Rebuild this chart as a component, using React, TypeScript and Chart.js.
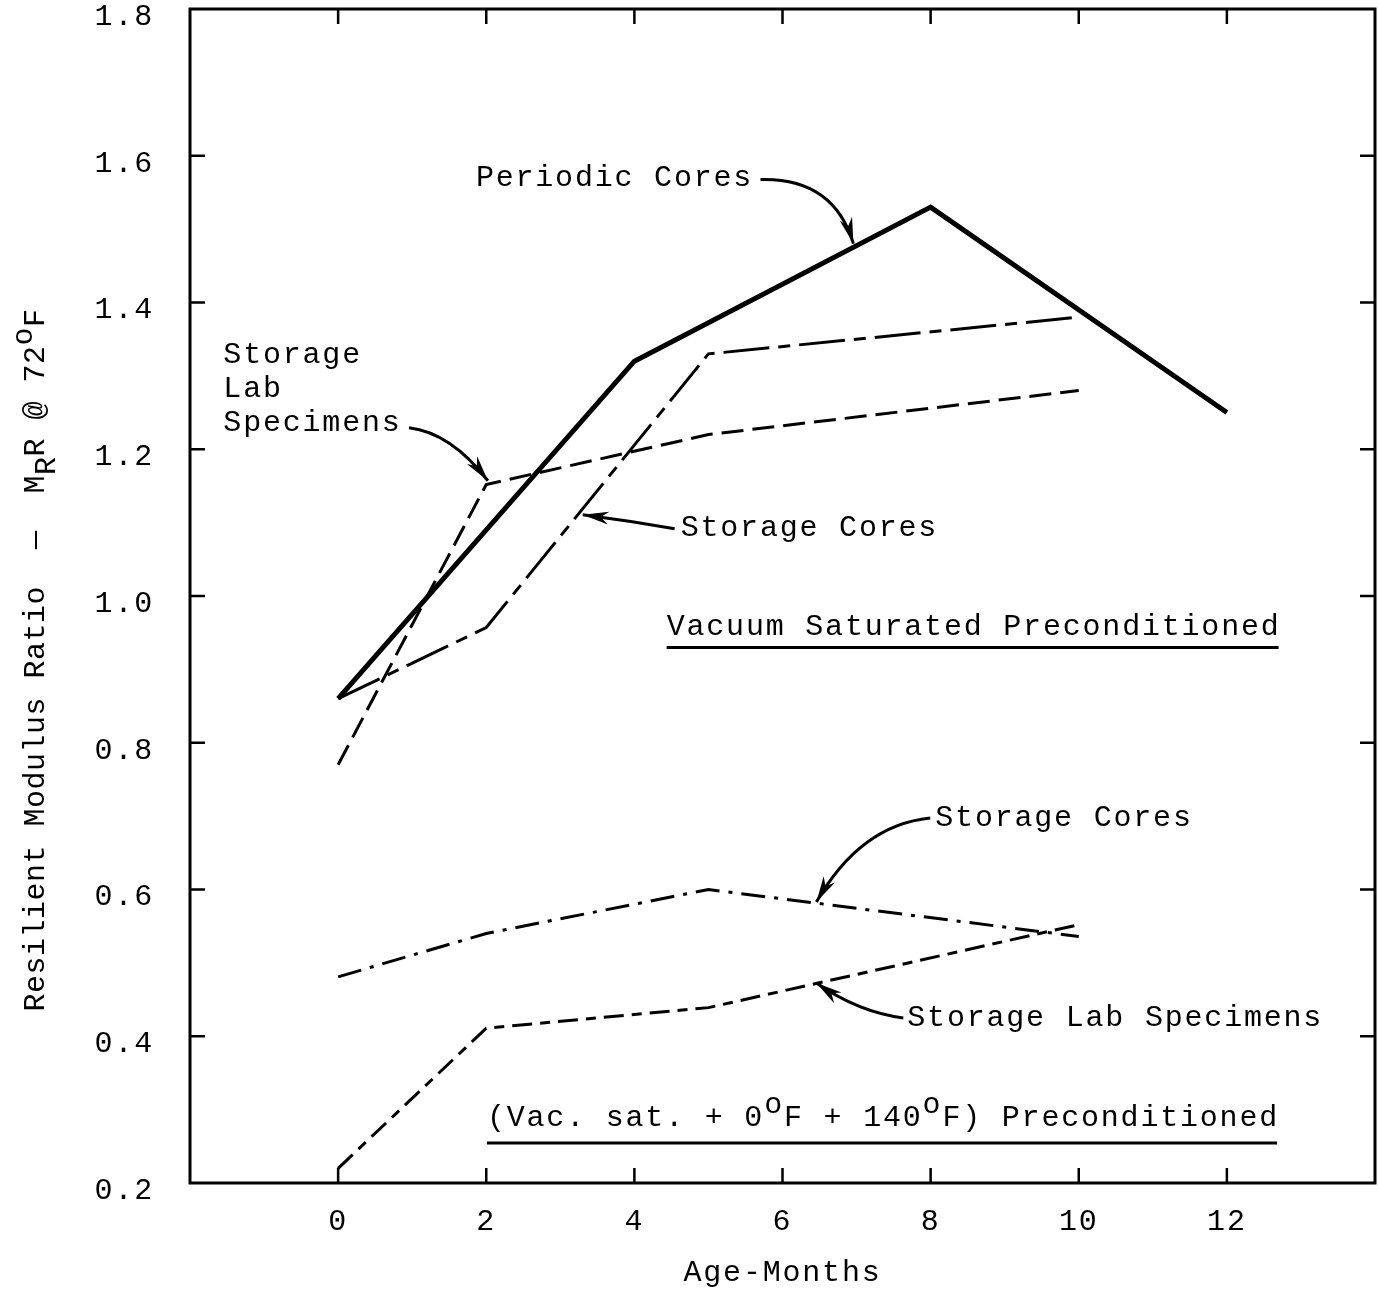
import React, { useEffect, useRef } from "react";
import { Chart, registerables } from "chart.js";

Chart.register(...registerables);

// ---------------- data ----------------
const xTickValues = [0, 2, 4, 6, 8, 10, 12];
const yTickValues = [0.2, 0.4, 0.6, 0.8, 1.0, 1.2, 1.4, 1.6, 1.8];

// Vacuum saturated preconditioned
const periodicCoresMonths = [0, 4, 8, 12];
const periodicCoresRatio = [0.86, 1.32, 1.53, 1.25];
const vsStorageCoresMonths = [0, 2, 5, 10];
const vsStorageCoresRatio = [0.86, 0.957, 1.33, 1.38];
const vsLabSpecimensMonths = [0, 2, 5, 10];
const vsLabSpecimensRatio = [0.77, 1.152, 1.22, 1.28];

// (Vac. sat. + 0F + 140F) preconditioned
const cyStorageCoresMonths = [0, 2, 5, 10];
const cyStorageCoresRatio = [0.481, 0.54, 0.6, 0.536];
const cyLabSpecimensMonths = [0, 2, 5, 10];
const cyLabSpecimensRatio = [0.22, 0.411, 0.439, 0.552];

// ---------------- styling ----------------
const FONT = "'Liberation Mono', 'Courier New', monospace";
const SIZE = 30;
const SPACING = "1.8px";

type Seg = { t: string; sub?: boolean; sup?: boolean };

const textNotes: { lines: Seg[][]; x: number; y: number; underline?: number }[] = [
  { lines: [[{ t: "Periodic Cores" }]], x: 1.86, y: 1.57 },
  { lines: [[{ t: "Storage" }], [{ t: "Lab" }], [{ t: "Specimens" }]], x: -1.55, y: 1.329 },
  { lines: [[{ t: "Storage Cores" }]], x: 4.625, y: 1.093 },
  { lines: [[{ t: "Vacuum Saturated Preconditioned" }]], x: 4.436, y: 0.957, underline: 20 },
  { lines: [[{ t: "Storage Cores" }]], x: 8.063, y: 0.698 },
  { lines: [[{ t: "Storage Lab Specimens" }]], x: 7.685, y: 0.425 },
  {
    lines: [[
      { t: "(Vac. sat. + 0" },
      { t: "o", sup: true },
      { t: "F + 140" },
      { t: "o", sup: true },
      { t: "F) Preconditioned" },
    ]],
    x: 2.009,
    y: 0.2886,
    underline: 25,
  },
];

const arrowNotes: { from: [number, number]; ctrl: [number, number]; to: [number, number] }[] = [
  { from: [5.703, 1.5675], ctrl: [6.687, 1.5702], to: [6.957, 1.4803] },
  { from: [0.957, 1.2294], ctrl: [1.524, 1.2225], to: [2.022, 1.1571] },
  { from: [4.544, 1.0917], ctrl: [3.923, 1.1026], to: [3.303, 1.1107] },
  { from: [7.995, 0.6976], ctrl: [7.051, 0.688], to: [6.458, 0.583] },
  { from: [7.631, 0.425], ctrl: [7.024, 0.433], to: [6.458, 0.4726] },
];

const yTitle: Seg[] = [
  { t: "Resilient Modulus Ratio  —  M" },
  { t: "R", sub: true },
  { t: "R @ 72" },
  { t: "o", sup: true },
  { t: "F" },
];

function setSpacing(ctx: CanvasRenderingContext2D, v: string) {
  (ctx as any).letterSpacing = v;
}

function drawRich(ctx: CanvasRenderingContext2D, segs: Seg[], x: number, y: number, supShift: number, subShift: number) {
  let cx = x;
  for (const s of segs) {
    const dy = s.sup ? -supShift : s.sub ? subShift : 0;
    ctx.fillText(s.t, cx, y + dy);
    cx += ctx.measureText(s.t).width;
  }
  return cx - x;
}

function drawArrow(ctx: CanvasRenderingContext2D, a: [number, number], c: [number, number], b: [number, number]) {
  ctx.beginPath();
  ctx.moveTo(a[0], a[1]);
  ctx.quadraticCurveTo(c[0], c[1], b[0], b[1]);
  ctx.lineWidth = 3;
  ctx.stroke();
  const ang = Math.atan2(b[1] - c[1], b[0] - c[0]);
  const L = 26;
  const W = 6.5;
  const bx = b[0] - L * Math.cos(ang);
  const by = b[1] - L * Math.sin(ang);
  ctx.beginPath();
  ctx.moveTo(b[0], b[1]);
  ctx.lineTo(bx + W * Math.sin(ang), by - W * Math.cos(ang));
  ctx.lineTo(b[0] - 0.7 * L * Math.cos(ang), b[1] - 0.7 * L * Math.sin(ang));
  ctx.lineTo(bx - W * Math.sin(ang), by + W * Math.cos(ang));
  ctx.closePath();
  ctx.fill();
}

const bgPlugin = {
  id: "bg",
  beforeDraw(chart: any) {
    const ctx = chart.ctx as CanvasRenderingContext2D;
    ctx.save();
    ctx.fillStyle = "#fff";
    ctx.fillRect(0, 0, chart.width, chart.height);
    ctx.restore();
    setSpacing(ctx, SPACING);
  },
};

const framePlugin = {
  id: "frameAndNotes",
  afterDraw(chart: any) {
    const ctx = chart.ctx as CanvasRenderingContext2D;
    const xs = chart.scales.x;
    const ys = chart.scales.y;
    const { left, right, top, bottom } = chart.chartArea;
    ctx.save();
    ctx.strokeStyle = "#000";
    ctx.fillStyle = "#000";
    ctx.lineCap = "butt";
    ctx.lineJoin = "miter";

    // frame
    ctx.lineWidth = 3;
    ctx.strokeRect(left, top, right - left, bottom - top);

    // inward ticks
    const TL = 15;
    ctx.lineWidth = 2.5;
    ctx.beginPath();
    for (const v of xTickValues) {
      const p = xs.getPixelForValue(v);
      ctx.moveTo(p, bottom);
      ctx.lineTo(p, bottom - TL);
      ctx.moveTo(p, top);
      ctx.lineTo(p, top + TL);
    }
    for (const v of yTickValues) {
      if (v <= ys.min + 1e-9 || v >= ys.max - 1e-9) continue;
      const p = ys.getPixelForValue(v);
      ctx.moveTo(left, p);
      ctx.lineTo(left + TL, p);
      ctx.moveTo(right, p);
      ctx.lineTo(right - TL, p);
    }
    ctx.stroke();

    // text annotations
    ctx.font = `${SIZE}px ${FONT}`;
    setSpacing(ctx, SPACING);
    ctx.textBaseline = "middle";
    ctx.textAlign = "left";
    for (const n of textNotes) {
      const x0 = xs.getPixelForValue(n.x);
      const y0 = ys.getPixelForValue(n.y);
      n.lines.forEach((line, i) => {
        const w = drawRich(ctx, line, x0, y0 + i * 34, 13, 11);
        if (n.underline) {
          ctx.lineWidth = 3;
          ctx.beginPath();
          ctx.moveTo(x0, y0 + n.underline);
          ctx.lineTo(x0 + w - 2, y0 + n.underline);
          ctx.stroke();
        }
      });
    }

    // arrows
    for (const a of arrowNotes) {
      const P = (q: [number, number]): [number, number] => [xs.getPixelForValue(q[0]), ys.getPixelForValue(q[1])];
      drawArrow(ctx, P(a.from), P(a.ctrl), P(a.to));
    }

    // y-axis title (with sub/superscripts)
    ctx.font = `30px ${FONT}`;
    setSpacing(ctx, "0.5px");
    let total = 0;
    for (const s of yTitle) total += ctx.measureText(s.t).width;
    ctx.translate(36, (top + bottom) / 2 + 64);
    ctx.rotate(-Math.PI / 2);
    drawRich(ctx, yTitle, -total / 2, 0, 12, 11);
    ctx.restore();
  },
};

export default function App() {
  const ref = useRef<HTMLCanvasElement>(null);

  useEffect(() => {
    const canvas = ref.current;
    if (!canvas) return;
    const mk = (xs: number[], ys: number[]) => xs.map((x, i) => ({ x, y: ys[i] }));
    const base = {
      borderColor: "#000",
      backgroundColor: "#000",
      pointRadius: 0,
      tension: 0,
      fill: false,
      borderCapStyle: "butt" as const,
      borderJoinStyle: "miter" as const,
    };
    const chart = new Chart(canvas, {
      type: "line",
      data: {
        datasets: [
          { ...base, label: "Periodic Cores", data: mk(periodicCoresMonths, periodicCoresRatio), borderWidth: 5 },
          { ...base, label: "Storage Cores (vac. sat.)", data: mk(vsStorageCoresMonths, vsStorageCoresRatio), borderWidth: 3, borderDash: [46, 9, 12, 9] },
          { ...base, label: "Storage Lab Specimens (vac. sat.)", data: mk(vsLabSpecimensMonths, vsLabSpecimensRatio), borderWidth: 3, borderDash: [22, 9] },
          { ...base, label: "Storage Cores (vac. sat. + 0F + 140F)", data: mk(cyStorageCoresMonths, cyStorageCoresRatio), borderWidth: 3, borderDash: [24, 9, 4, 9] },
          { ...base, label: "Storage Lab Specimens (vac. sat. + 0F + 140F)", data: mk(cyLabSpecimensMonths, cyLabSpecimensRatio), borderWidth: 3, borderDash: [20, 8, 10, 8] },
        ],
      },
      options: {
        responsive: false,
        animation: false,
        devicePixelRatio: 1,
        layout: { padding: { top: 9, right: 5, left: 0, bottom: 0 } },
        plugins: { legend: { display: false }, tooltip: { enabled: false } },
        scales: {
          x: {
            type: "linear",
            min: -2,
            max: 14,
            afterBuildTicks: (s: any) => {
              s.ticks = xTickValues.map((v) => ({ value: v }));
            },
            afterFit: (s: any) => {
              s.height = 109;
              s.paddingLeft = 0;
              s.paddingRight = 0;
            },
            grid: { display: false },
            border: { display: false },
            ticks: {
              font: { family: FONT, size: SIZE },
              color: "#000",
              padding: 13,
              maxRotation: 0,
              autoSkip: false,
              callback: (v: any) => String(v),
            },
            title: {
              display: true,
              text: "Age-Months",
              font: { family: FONT, size: SIZE },
              color: "#000",
              padding: { top: 0, bottom: 1 },
            },
          },
          y: {
            type: "linear",
            min: 0.2,
            max: 1.8,
            afterBuildTicks: (s: any) => {
              s.ticks = yTickValues.map((v) => ({ value: v }));
            },
            afterFit: (s: any) => {
              s.width = 190;
              s.paddingTop = 0;
              s.paddingBottom = 0;
            },
            grid: { display: false },
            border: { display: false },
            ticks: {
              font: { family: FONT, size: SIZE },
              color: "#000",
              padding: 28,
              labelOffset: 8,
              autoSkip: false,
              callback: (v: any) => Number(v).toFixed(1),
            },
          },
        },
      },
      plugins: [bgPlugin, framePlugin],
    });
    return () => chart.destroy();
  }, []);

  return (
    <div style={{ position: "absolute", left: 0, top: 0, width: 1380, height: 1292 }}>
      <canvas ref={ref} width={1380} height={1292} style={{ display: "block" }} />
    </div>
  );
}
